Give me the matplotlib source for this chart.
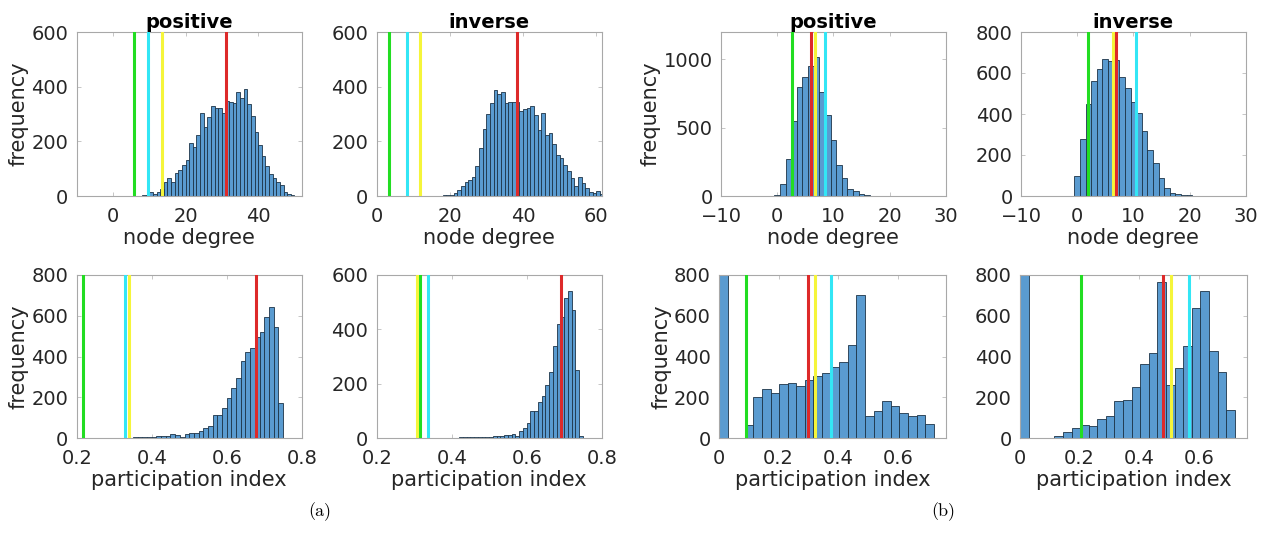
import matplotlib.pyplot as plt
import numpy as np

# (a) positive, node degree: counts for integer bins starting at 8
a_pos_deg_first = 8
a_pos_deg = [2, 5, 16, 8, 13, 25, 52, 67, 52, 83, 95, 113, 130, 193, 180, 225,
             302, 252, 290, 330, 322, 322, 305, 347, 345, 340, 380, 360, 390,
             335, 292, 235, 185, 145, 110, 80, 65, 52, 40, 16, 6, 3]
a_pos_deg_lines = [5.7, 9.6, 13.4, 31.1]

# (a) inverse, node degree
a_inv_deg_first = 17
a_inv_deg = [1, 2, 3, 5, 12, 22, 38, 52, 58, 70, 110, 175, 245, 300, 340, 388,
             372, 380, 342, 345, 345, 345, 310, 320, 322, 330, 295, 240, 305,
             225, 230, 190, 150, 140, 115, 90, 65, 35, 68, 46, 28, 16, 12, 18, 6]
a_inv_deg_lines = [3.4, 8.3, 11.7, 38.3]

# (b) positive, node degree (bins centred on integers)
b_pos_deg_first = 0
b_pos_deg = [5, 90, 270, 550, 800, 870, 950, 1020, 760, 590, 410, 230, 130,
             50, 40, 15, 5, 2]
b_pos_deg_lines = [2.67, 8.6, 6.65, 6.1]

# (b) inverse, node degree
b_inv_deg_first = 0
b_inv_deg = [100, 280, 450, 563, 619, 670, 660, 665, 580, 525, 460, 405, 315,
             225, 160, 86, 37, 15, 8, 4, 3, 2, 1]
b_inv_deg_lines = [2.0, 10.5, 6.3, 6.9]

# (a) positive, participation index (bin width 0.0125 from 0.2125)
a_pos_pi_first = 0.2125
a_pos_pi_width = 0.0125
a_pos_pi = [2, 2, 1, 0, 0, 0, 0, 1, 1, 2, 3, 4, 5, 6, 8, 8, 9, 10, 10, 20,
            15, 8, 22, 25, 27, 36, 49, 60, 114, 114, 147, 196, 245, 294, 380,
            424, 444, 498, 522, 593, 641, 547, 171]
a_pos_pi_lines = [0.218, 0.329, 0.340, 0.677]

# (a) inverse, participation index (bin width 0.01 from 0.37)
a_inv_pi_first = 0.37
a_inv_pi_width = 0.01
a_inv_pi = [1, 1, 2, 2, 2, 3, 3, 3, 4, 4, 5, 6, 6, 6, 8, 7, 10, 12, 12, 15,
            10, 25, 38, 55, 100, 100, 135, 155, 195, 245, 340, 420, 445, 515,
            540, 470, 250, 10]
a_inv_pi_lines = [0.316, 0.336, 0.308, 0.692]

# (b) positive, participation index (25 bins over 0..0.72)
b_pos_pi = [900, 0, 3, 65, 200, 240, 220, 265, 270, 255, 285, 305, 320, 350,
            375, 455, 700, 110, 135, 185, 160, 125, 110, 112, 70]
b_pos_pi_lines = [0.092, 0.376, 0.323, 0.298]

# (b) inverse, participation index
b_inv_pi = [900, 0, 0, 3, 12, 30, 52, 65, 60, 95, 110, 185, 190, 250, 365, 420,
            765, 260, 345, 450, 640, 720, 430, 325, 140]
b_inv_pi_lines = [0.206, 0.568, 0.506, 0.480]
b_pi_max = 0.72

line_colors = ['#22dd22', '#33e6f5', '#f5f53a', '#dd2a2a']  # green, cyan, yellow, red
bar_color = '#5a9bd0'

W, H = 1268, 539
fig = plt.figure(figsize=(W / 100, H / 100), dpi=100)
plt.rcParams['font.family'] = 'DejaVu Sans'


def make_ax(l, r, t, b):
    return fig.add_axes([l / W, (H - b) / H, (r - l) / W, (b - t) / H])


def draw(ax, edges, counts, lines, xlim, xticks, ylim, yticks, xlabel,
         ylabel=None, title=None, xticklabels=None):
    edges = np.asarray(edges)
    ax.bar(edges[:-1], counts, width=np.diff(edges), align='edge',
           color=bar_color, edgecolor='#1d3447', linewidth=0.6, zorder=2)
    for xv, c in zip(lines, line_colors):
        ax.axvline(xv, color=c, lw=2.2, zorder=3)
    ax.set_xlim(*xlim)
    ax.set_ylim(*ylim)
    ax.set_xticks(xticks)
    if xticklabels is not None:
        ax.set_xticklabels(xticklabels)
    ax.set_yticks(yticks)
    ax.tick_params(direction='in', top=True, right=True, length=3,
                   labelsize=14, width=0.6, color='#bdbdbd',
                   labelcolor='#262626')
    ax.tick_params(axis='x', pad=8)
    ax.tick_params(axis='y', pad=6)
    for s in ax.spines.values():
        s.set_color('#a8a8a8')
        s.set_linewidth(0.8)
    ax.set_xlabel(xlabel, fontsize=15, color='#262626', labelpad=1)
    if ylabel:
        ax.set_ylabel(ylabel, fontsize=15, color='#262626', labelpad=2)
    if title:
        ax.set_title(title, fontsize=14, fontweight='bold', pad=3)


deg_b_labels = ['\u221210', '0', '10', '20', '30']
pi_a_labels = ['0.2', '0.4', '0.6', '0.8']
pi_b_labels = ['0', '0.2', '0.4', '0.6']

# row 1
ax = make_ax(76.7, 301.7, 32, 196)
e = a_pos_deg_first + np.arange(len(a_pos_deg) + 1)
draw(ax, e, a_pos_deg, a_pos_deg_lines, (-10, 52), [0, 20, 40], (0, 600),
     [0, 200, 400, 600], 'node degree', 'frequency', 'positive')

ax = make_ax(376.7, 601.7, 32, 196)
e = a_inv_deg_first + np.arange(len(a_inv_deg) + 1)
draw(ax, e, a_inv_deg, a_inv_deg_lines, (0, 61.5), [0, 20, 40, 60], (0, 600),
     [0, 200, 400, 600], 'node degree', None, 'inverse')

ax = make_ax(721, 945.7, 32, 196)
e = b_pos_deg_first - 0.5 + np.arange(len(b_pos_deg) + 1)
draw(ax, e, b_pos_deg, b_pos_deg_lines, (-10, 30), [-10, 0, 10, 20, 30],
     (0, 1200), [0, 500, 1000], 'node degree', 'frequency', 'positive',
     deg_b_labels)

ax = make_ax(1021, 1245.7, 32, 196)
e = b_inv_deg_first - 0.5 + np.arange(len(b_inv_deg) + 1)
draw(ax, e, b_inv_deg, b_inv_deg_lines, (-10, 30), [-10, 0, 10, 20, 30],
     (0, 800), [0, 200, 400, 600, 800], 'node degree', None, 'inverse',
     deg_b_labels)

# row 2
ax = make_ax(76.7, 301.7, 275, 438.3)
e = a_pos_pi_first + a_pos_pi_width * np.arange(len(a_pos_pi) + 1)
draw(ax, e, a_pos_pi, a_pos_pi_lines, (0.2, 0.8), [0.2, 0.4, 0.6, 0.8],
     (0, 800), [0, 200, 400, 600, 800], 'participation index', 'frequency',
     xticklabels=pi_a_labels)

ax = make_ax(376.7, 601.7, 275, 438.3)
e = a_inv_pi_first + a_inv_pi_width * np.arange(len(a_inv_pi) + 1)
draw(ax, e, a_inv_pi, a_inv_pi_lines, (0.2, 0.8), [0.2, 0.4, 0.6, 0.8],
     (0, 600), [0, 200, 400, 600], 'participation index',
     xticklabels=pi_a_labels)

ax = make_ax(719, 945.7, 275, 438.3)
e = np.linspace(0, b_pi_max, len(b_pos_pi) + 1)
draw(ax, e, b_pos_pi, b_pos_pi_lines, (0, 0.76), [0, 0.2, 0.4, 0.6],
     (0, 800), [0, 200, 400, 600, 800], 'participation index', 'frequency',
     xticklabels=pi_b_labels)

ax = make_ax(1020, 1246.7, 275, 438.3)
e = np.linspace(0, b_pi_max, len(b_inv_pi) + 1)
draw(ax, e, b_inv_pi, b_inv_pi_lines, (0, 0.76), [0, 0.2, 0.4, 0.6],
     (0, 800), [0, 200, 400, 600, 800], 'participation index',
     xticklabels=pi_b_labels)

fig.text(320 / W, 1 - 512 / H, '(a)', family='cmr10', fontsize=13,
         ha='center', va='center')
fig.text(943 / W, 1 - 512 / H, '(b)', family='cmr10', fontsize=13,
         ha='center', va='center')

fig.savefig('out.png', dpi=100)
